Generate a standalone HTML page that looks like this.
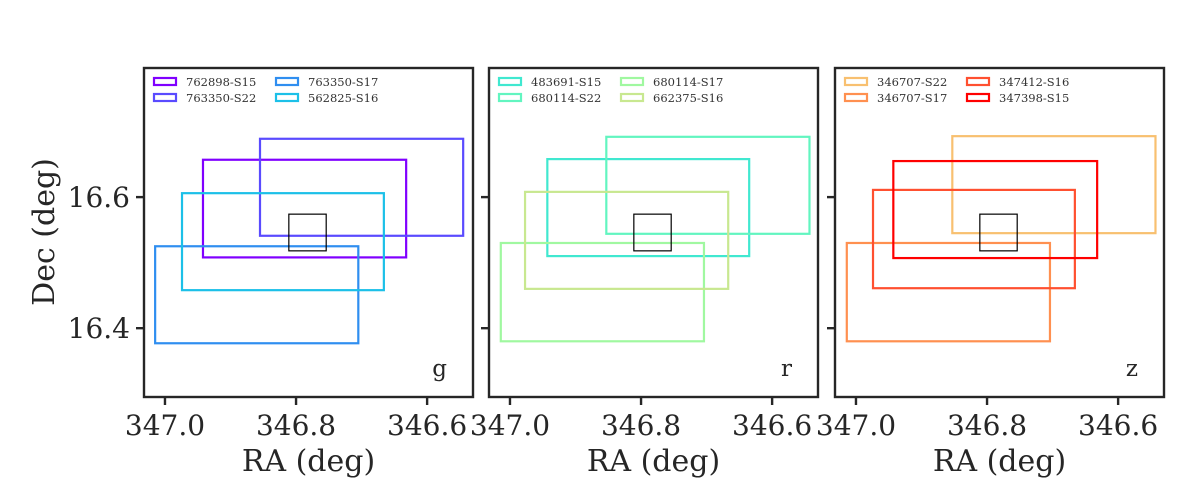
<!DOCTYPE html>
<html><head><meta charset="utf-8"><style>
html,body{margin:0;padding:0;background:#fff;}
svg{display:block;font-family:"DejaVu Serif","Liberation Serif",serif;}
</style></head><body>
<svg id="fig" width="1200" height="500" viewBox="0 0 1200 500"></svg>
<script>
const bands = ['g','r','z'];
const labels = [
 ['762898-S15','763350-S22','763350-S17','562825-S16'],
 ['483691-S15','680114-S22','680114-S17','662375-S16'],
 ['346707-S22','346707-S17','347412-S16','347398-S15']];
const colors = [
 ['#8000ff','#5a4bff','#2f8ef0','#1cc0e8'],
 ['#40e8d0','#62f5c0','#a0f8a0','#c8e890'],
 ['#f8c070','#ff9050','#ff5030','#ff0000']];
const raMax = [
 [346.942,346.855,347.015,346.974],
 [346.943,346.853,347.014,346.977],
 [346.853,347.014,346.974,346.943]];
const raMin = [
 [346.632,346.545,346.705,346.666],
 [346.635,346.543,346.704,346.667],
 [346.543,346.704,346.666,346.632]];
const decMax = [
 [16.657,16.689,16.525,16.606],
 [16.658,16.692,16.530,16.608],
 [16.693,16.530,16.611,16.655]];
const decMin = [
 [16.508,16.541,16.377,16.458],
 [16.510,16.544,16.380,16.460],
 [16.545,16.380,16.461,16.507]];
const target = [346.811,346.754,16.574,16.518];
const xTicks = [347.0,346.8,346.6];
const yTicks = [16.6,16.4];

const NS='http://www.w3.org/2000/svg';
const svg=document.getElementById('fig');
function mk(t,a,p){const e=document.createElementNS(NS,t);for(const k in a)e.setAttribute(k,a[k]);(p||svg).appendChild(e);return e;}
const panelsX=[144,489,835], W=329, topY=68, H=329;
const raL=347.032, raR=346.530, decT=16.797, decB=16.295;
bands.forEach((b,i)=>{
  const x0=panelsX[i];
  const g=mk('g',{});
  
  
  const X=v=>x0+(raL-v)/(raL-raR)*W;
  const Y=v=>topY+(decT-v)/(decT-decB)*H;
  labels[i].forEach((l,j)=>{
    const r=mk('rect',{x:X(raMax[i][j]),y:Y(decMax[i][j]),width:X(raMin[i][j])-X(raMax[i][j]),height:Y(decMin[i][j])-Y(decMax[i][j]),fill:'none',stroke:colors[i][j],'stroke-width':2.2},g);
    
    
  });
  const t=mk('rect',{x:X(target[0]),y:Y(target[2]),width:X(target[1])-X(target[0]),height:Y(target[3])-Y(target[2]),fill:'none',stroke:'#000','stroke-width':1.2},g);
  
  
  const fr=mk('rect',{x:x0,y:topY,width:W,height:H,fill:'none',stroke:'#262626','stroke-width':2.4},g);
  
  
  xTicks.forEach(v=>{
    mk('line',{x1:X(v),x2:X(v),y1:topY+H,y2:topY+H+8,stroke:'#262626','stroke-width':2.4},g);
    const tx=mk('text',{x:X(v),y:435,'text-anchor':'middle','font-size':28,fill:'#262626'},g);
    tx.textContent=v.toFixed(1);
    
    
  });
  yTicks.forEach(v=>{
    mk('line',{x1:x0-8,x2:x0,y1:Y(v),y2:Y(v),stroke:'#262626','stroke-width':2.4},g);
    if(i===0){
      const ty=mk('text',{x:x0-14,y:Y(v)+10,'text-anchor':'end','font-size':28,fill:'#262626'},g);
      ty.textContent=v.toFixed(1);
      
      
    }
  });
  const xl=mk('text',{x:x0+W/2,y:471,'text-anchor':'middle','font-size':30,fill:'#262626'},g);
  xl.textContent='RA (deg)';
  
  
  const bl=mk('text',{x:x0+W-26,y:376,'text-anchor':'end','font-size':23,fill:'#262626'},g);
  bl.textContent=b;
  
  
  labels[i].forEach((l,j)=>{
    const col=j<2?0:1, row=j%2;
    const lx=x0+10+col*122, ly=82+row*16;
    const le=mk('g',{},g);
    
    
    mk('rect',{x:lx,y:ly-4,width:22,height:7,fill:'none',stroke:colors[i][j],'stroke-width':2.2},le);
    const lt=mk('text',{x:lx+32,y:ly+4,'font-size':11.5,fill:'#333'},le);
    lt.textContent=l;
  });
});
const yl=mk('text',{x:0,y:0,'text-anchor':'middle','font-size':30,fill:'#262626',transform:'translate(52,232) rotate(-90)'});
yl.setAttribute('transform','translate(54,232) rotate(-90)');
yl.setAttribute('x','0');
yl.setAttribute('y','0');
yl.textContent='Dec (deg)';


yl.setAttribute('transform','translate(44,232) rotate(-90)');
yl.setAttribute('dy','10');
</script>
</body></html>
